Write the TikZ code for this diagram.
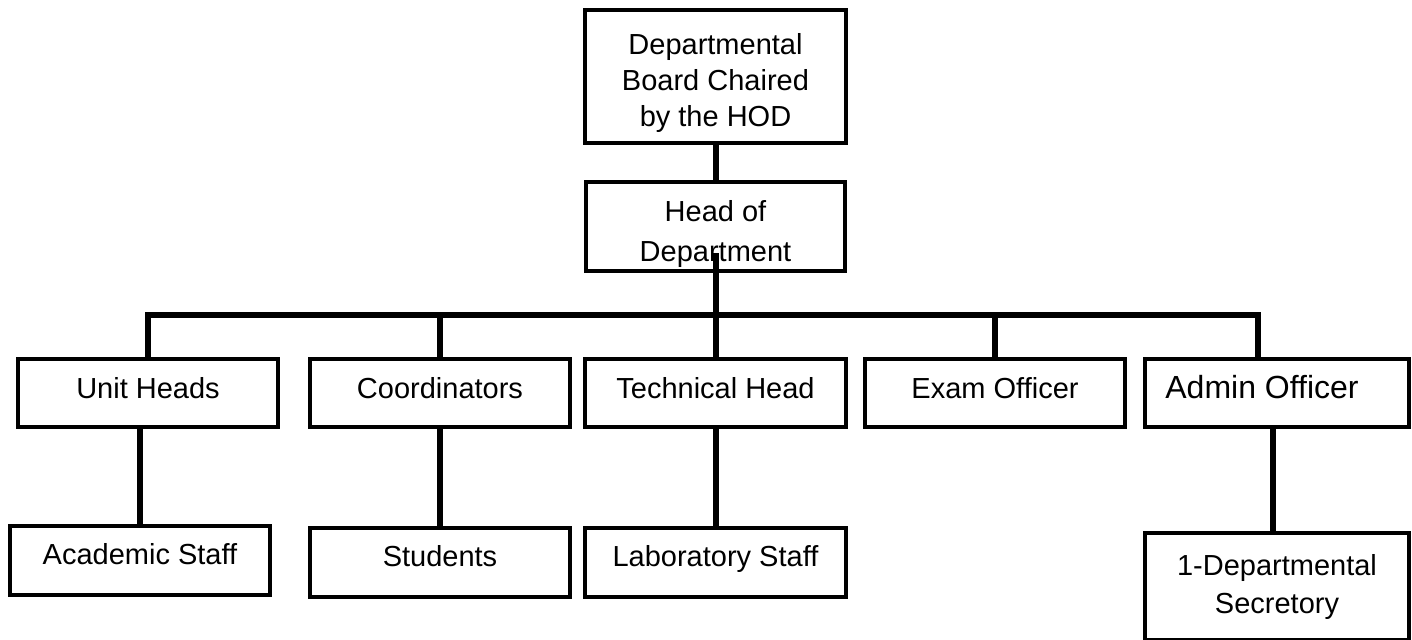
\documentclass[tikz,border=0pt]{standalone}
\usepackage{fontspec}
\setmainfont{Liberation Sans}
\usetikzlibrary{positioning}

\begin{document}
\begin{tikzpicture}[on grid,node distance=84pt,
   box/.style={draw,line width=2pt,inner sep=0pt,minimum width=130pt,minimum height=34pt,align=center,font=\fontsize{14.5pt}{18pt}\selectfont},
   head/.style={box,text height=10.5pt,text depth=5pt},
   staff/.style={box,minimum height=34.5pt,text height=10.5pt,text depth=6.5pt},
   wire/.style={line width=3pt}]
   \useasboundingbox (-357.75pt,-281.25pt) rectangle (348.25pt,38.25pt);
   \node[box] (board) [minimum height=66.5pt] {\rule{0pt}{17.5pt}Departmental\\Board Chaired\\by the HOD};
   \node[box] (hod) [below=75pt of board,minimum width=129.5pt,minimum height=44.5pt,font=\fontsize{14.5pt}{20pt}\selectfont] {\rule{0pt}{18.2pt}Head of\\Department};
   \node[head] (tech) [below=83.25pt of hod,minimum width=130.5pt] {Technical Head};
   \node[head] (coord) [left=137.75pt of tech] {Coordinators};
   \node[head] (unit) [left=146pt of coord] {Unit Heads};
   \node[head] (exam) [right=139.75pt of tech] {Exam Officer};
   \node[head] (admin) [right=141pt of exam,minimum width=132pt,font=\fontsize{16pt}{19pt}\selectfont] {Admin Officer\rule{15pt}{0pt}};
   \node[staff] (acad) [below=83.5pt of unit,xshift=-4pt] {Academic Staff};
   \node[staff] (stud) [below=84.5pt of coord] {Students};
   \node[staff] (lab) [below=84.75pt of tech] {Laboratory Staff};
   \node[box] (sec) [below=96.75pt of admin,minimum width=132pt,minimum height=53.5pt,font=\fontsize{14.5pt}{19pt}\selectfont] {1-Departmental\\Secretory};
   \coordinate[below=13.25pt of hod] (hodin);
   \coordinate[below=44.25pt of hod] (bus);
   % connectors
   \draw[wire] (board) -- (hod);
   \draw[wire] (hodin) -- (bus);
   \draw[wire] (unit.north) |- (bus) -| ([xshift=-9.5pt]admin.north);
   \draw[wire] (coord.north) -- (coord.north |- bus);
   \draw[wire] (tech.north) -- (bus);
   \draw[wire] (exam.north) -- (exam.north |- bus);
   \draw[wire] (acad.north) -- (acad.north |- unit.south);
   \draw[wire] (coord) -- (stud);
   \draw[wire] (tech) -- (lab);
   \draw[wire] ([xshift=-2pt]admin.south) -- ([xshift=-2pt]admin.south |- sec.north);
\end{tikzpicture}
\end{document}
